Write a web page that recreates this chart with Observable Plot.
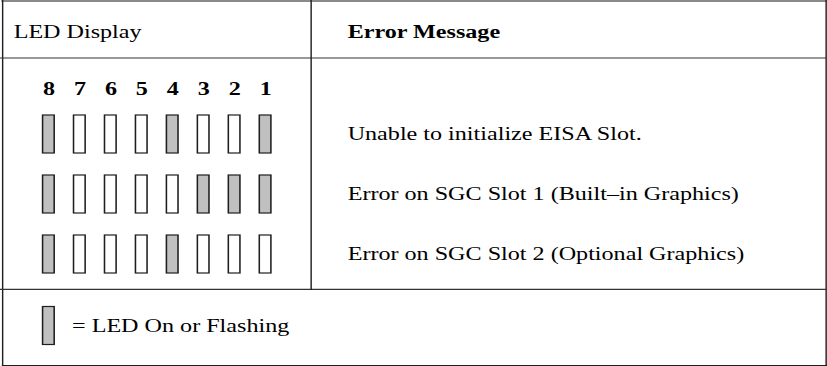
<!DOCTYPE html>
<html><head><meta charset="utf-8">
<script src="https://cdn.jsdelivr.net/npm/d3@7"></script>
<script src="https://cdn.jsdelivr.net/npm/@observablehq/plot@0.6"></script>
<style>html,body{margin:0;padding:0;background:#fff;overflow:hidden}</style>
</head><body><div id="chart"></div>
<script>
// ---- data ----
const headers = ["LED Display", "Error Message"];
const leds = ["8", "7", "6", "5", "4", "3", "2", "1"];
const messages = [
  "Unable to initialize EISA Slot.",
  "Error on SGC Slot 1 (Built–in Graphics)",
  "Error on SGC Slot 2 (Optional Graphics)"
];
const ledsOn = [["8", "4", "1"], ["8", "3", "2", "1"], ["8", "4"]];
const legendLabel = "= LED On or Flashing";

// ---- layout (the original figure is stretched horizontally) ----
const K = 1.29;
const W = 827, H = 366;
const w = W / K;
const sx = v => v / K;
const FONT = "Liberation Serif, Times New Roman, serif";
const FS = 18.7;
const ON = "#c0c0c0", OFF = "#ffffff", EDGE = "#1e1e1e";

const cells = messages.flatMap((m, i) =>
  leds.map(l => ({led: l, message: m, on: ledsOn[i].includes(l)})));

const svg = Plot.plot({
  width: w,
  height: H,
  margin: 0,
  style: {fontFamily: FONT, fontSize: FS + "px", background: "#fff", color: "#000"},
  x: {type: "band", domain: leds, range: [sx(41.5), sx(272.5)], paddingInner: 0.62, paddingOuter: 0, axis: null},
  y: {type: "band", domain: messages, range: [115, 273], paddingInner: 0.367, paddingOuter: 0, axis: null},
  marks: [
    // table rules
    Plot.frame({anchor: "top", stroke: "#8a8a8a", strokeWidth: 2, insetTop: 0.5, insetLeft: sx(2)}),
    Plot.frame({anchor: "left", stroke: EDGE, strokeWidth: 1.1, insetLeft: sx(2), insetBottom: 0.5}),
    Plot.frame({anchor: "right", stroke: EDGE, strokeWidth: 1.1, insetRight: sx(1.5), insetBottom: 0.5}),
    Plot.frame({anchor: "bottom", stroke: EDGE, strokeWidth: 1.2, insetBottom: 1, insetLeft: sx(2)}),
    Plot.frame({anchor: "top", stroke: "#333", strokeWidth: 1.2, insetTop: 57.5}),
    Plot.frame({anchor: "top", stroke: "#333", strokeWidth: 1.2, insetTop: 288.8}),
    Plot.frame({anchor: "left", stroke: EDGE, strokeWidth: 1.1, insetLeft: sx(310.5), insetBottom: H - 289}),
    // headers
    Plot.text([headers[0]], {frameAnchor: "top-left", textAnchor: "start", lineAnchor: "bottom",
      dx: sx(13), dy: 37.3, fontSize: FS, fill: "#000"}),
    Plot.text([headers[1]], {frameAnchor: "top-left", textAnchor: "start", lineAnchor: "bottom",
      dx: sx(347), dy: 37.7, fontSize: FS, fontWeight: "bold", fill: "#000"}),
    // LED numbers
    Plot.text(leds, {x: d => d, frameAnchor: "top", lineAnchor: "bottom", dy: 94.3,
      fontSize: FS, fontWeight: "bold", fill: "#000"}),
    // LEDs
    Plot.cell(cells, {x: "led", y: "message", fill: d => d.on ? ON : OFF, stroke: EDGE, strokeWidth: 1.2}),
    // messages
    Plot.text(messages, {y: d => d, frameAnchor: "left", textAnchor: "start", dx: sx(347),
      fontSize: FS, fill: "#000"}),
    // legend
    Plot.cell([legendLabel], {x: () => leds[0], y: () => messages[2], dy: 71.5,
      fill: ON, stroke: EDGE, strokeWidth: 1.2}),
    Plot.text([legendLabel], {x: () => leds[0], y: () => messages[2], dy: 71.5, dx: sx(70.5 - 47.5),
      textAnchor: "start", fontSize: FS, fill: "#000"})
  ]
});

svg.setAttribute("viewBox", `0 0 ${w} ${H}`);
svg.setAttribute("width", W);
svg.setAttribute("height", H);
svg.setAttribute("preserveAspectRatio", "none");
svg.style.width = W + "px";
svg.style.height = H + "px";
svg.style.maxWidth = "none";
document.getElementById("chart").appendChild(svg);
</script>
</body></html>
